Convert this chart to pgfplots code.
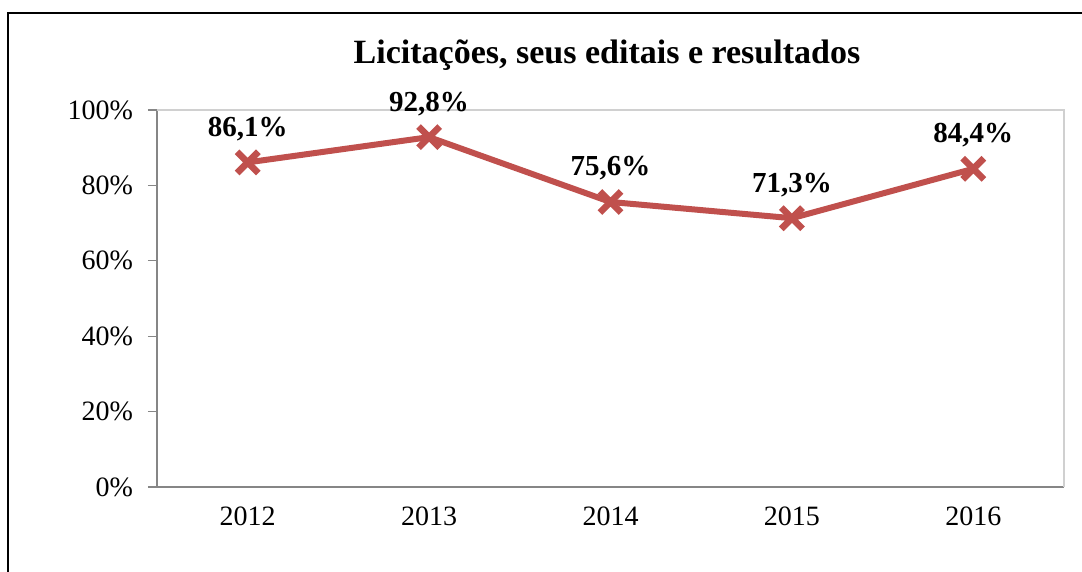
\documentclass[border=0pt]{standalone}
\usepackage{pgfplots}
\pgfplotsset{compat=1.18}
\usepackage{fontspec}
\setmainfont{Liberation Serif}
\definecolor{exred}{HTML}{C0504D}
\definecolor{axgray}{HTML}{868686}
\definecolor{lightgray}{HTML}{D0D0D0}
\begin{document}
\begin{tikzpicture}[x=1pt,y=1pt]
\begin{axis}[
  at={(0,0)}, anchor=south west,
  scale only axis,
  width=453.5pt, height=188.5pt,
  xmin=-0.5, xmax=4.5,
  ymin=0, ymax=100,
  axis x line*=bottom, axis y line*=left,
  axis line style={axgray, line width=0.6pt},
  xtick={0,1,2,3,4},
  xticklabels={2012,2013,2014,2015,2016},
  x tick style={draw=none},
  extra x ticks={-0.5,0.5,1.5,2.5,3.5,4.5},
  extra x tick labels={},
  extra x tick style={tick style={draw=axgray, line width=0.6pt}, major tick length=4pt},
  ytick={0,20,40,60,80,100},
  yticklabels={0\%,20\%,40\%,60\%,80\%,100\%},
  y tick style={draw=axgray, line width=0.6pt},
  tick align=outside,
  major tick length=4.5pt,
  ticklabel style={font=\fontsize{14}{16}\selectfont},
  xticklabel style={yshift=-2pt},
  yticklabel style={xshift=-4pt},
  clip=false,
  point meta=explicit symbolic,
  nodes near coords,
  nodes near coords style={anchor=base, yshift=13pt, font=\fontsize{14.5}{16}\selectfont\bfseries, text=black},
]
\draw[lightgray, line width=0.6pt] (rel axis cs:0,1) -- (rel axis cs:1,1) -- (rel axis cs:1,0);
\addplot[color=exred, line width=3pt, mark=x, mark size=7.5pt, mark options={line width=3.3pt}]
  coordinates {(0,86.1)[86,1\%] (1,92.8)[92,8\%] (2,75.6)[75,6\%] (3,71.3)[71,3\%] (4,84.4)[84,4\%]};
\end{axis}
\node[font=\fontsize{17}{19}\selectfont\bfseries] at (225,216) {Licitações, seus editais e resultados};
\draw[black, line width=1pt] (-74.5,-42.5) -- (-74.5,237) -- (462.5,237);
\pgfresetboundingbox
\path[use as bounding box] (-78.5,-42.5) rectangle (462.5,243.5);
\end{tikzpicture}
\end{document}
